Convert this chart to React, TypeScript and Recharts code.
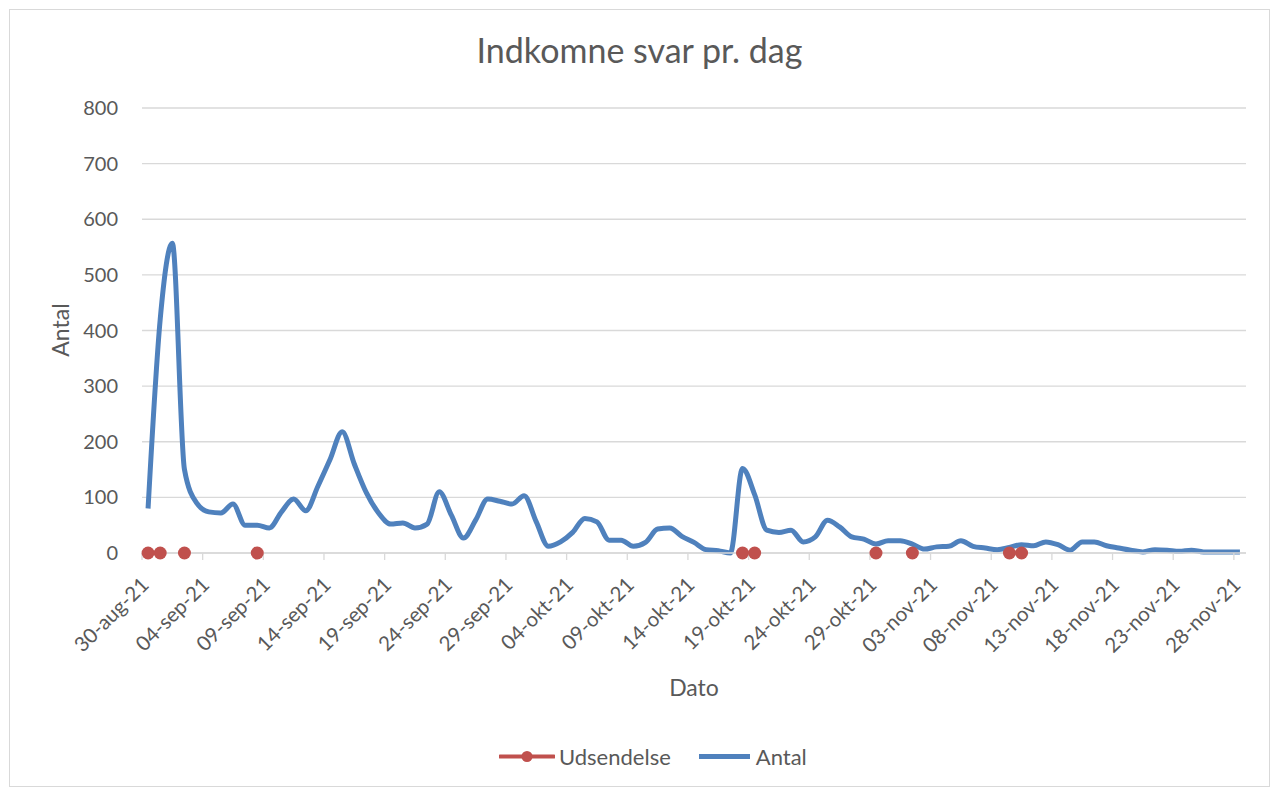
import { LineChart, Line, XAxis, YAxis, CartesianGrid } from 'recharts';

// x tick labels, one per 5 days starting 30-aug-21
const tickLabels = [
  '30-aug-21', '04-sep-21', '09-sep-21', '14-sep-21', '19-sep-21', '24-sep-21',
  '29-sep-21', '04-okt-21', '09-okt-21', '14-okt-21', '19-okt-21', '24-okt-21',
  '29-okt-21', '03-nov-21', '08-nov-21', '13-nov-21', '18-nov-21', '23-nov-21',
  '28-nov-21'
];

// daily answers, 30-aug-21 .. 28-nov-21
const antal = [
  80, 420, 557, 150, 90, 74, 72, 88, 50, 50,
  45, 74, 97, 76, 120, 168, 218, 160, 108, 72,
  52, 54, 45, 52, 110, 68, 27, 59, 97, 93,
  88, 103, 56, 12, 20, 37, 62, 56, 23, 23,
  12, 19, 43, 45, 30, 19, 6, 4, 0, 152,
  105, 41, 37, 41, 20, 29, 59, 47, 29, 25,
  16, 22, 22, 16, 7, 11, 12, 22, 12, 9,
  6, 10, 15, 13, 20, 15, 5, 20, 20, 13,
  9, 5, 2, 6, 5, 3, 5, 2, 2, 2,
  2
];

// days (index from 30-aug-21) where a mailing was sent
const udsendelseDays = [0, 1, 3, 9, 49, 50, 60, 63, 71, 72];

const yTicks = [0, 100, 200, 300, 400, 500, 600, 700, 800];

const data = antal.map((v, i) => ({
  day: i,
  antal: v,
  udsendelse: udsendelseDays.includes(i) ? 0 : null
}));

const xTicks = tickLabels.map((_, i) => i * 5 - 0.5);

const TEXT = '#595959';
const FONT = 'Lato, "Open Sans", sans-serif';

const DateTick = (props: any) => {
  const { x, y, payload } = props;
  const label = tickLabels[Math.round((payload.value + 0.5) / 5)];
  const tx = x + 3;
  return (
    <text
      x={tx}
      y={y}
      transform={`rotate(-45, ${tx}, ${y})`}
      textAnchor="end"
      dy="0.35em"
      fill={TEXT}
      fontSize={20.5}
      fontFamily={FONT}
    >
      {label}
    </text>
  );
};

export default function App() {
  return (
    <div
      style={{
        position: 'relative',
        width: 1259,
        height: 776,
        margin: 1,
        border: '1px solid #D9D9D9',
        background: '#fff',
        fontFamily: FONT,
        color: TEXT
      }}
    >
      <div
        style={{
          position: 'absolute',
          left: 0,
          right: 0,
          top: 20,
          textAlign: 'center',
          fontSize: 34,
          lineHeight: '40px'
        }}
      >
        Indkomne svar pr. dag
      </div>
      <div
        style={{
          position: 'absolute',
          left: 50,
          top: 320,
          transform: 'translate(-50%, -50%) rotate(-90deg)',
          fontSize: 23,
          whiteSpace: 'nowrap'
        }}
      >
        Antal
      </div>
      <div
        style={{
          position: 'absolute',
          left: 684,
          top: 677,
          transform: 'translate(-50%, -50%)',
          fontSize: 23
        }}
      >
        Dato
      </div>

      <LineChart
        width={1259}
        height={776}
        data={data}
        margin={{ top: 98, right: 23, left: 72, bottom: 173 }}
      >
        <CartesianGrid vertical={false} stroke="#D9D9D9" strokeWidth={1.3} />
        <XAxis
          dataKey="day"
          type="number"
          domain={[-0.5, 90.5]}
          ticks={xTicks}
          interval={0}
          height={60}
          axisLine={{ stroke: '#D9D9D9', strokeWidth: 1.3 }}
          tickLine={{ stroke: '#D9D9D9', strokeWidth: 1.3 }}
          tickSize={7}
          tickMargin={21}
          tick={<DateTick />}
        />
        <YAxis
          domain={[0, 800]}
          ticks={yTicks}
          width={60}
          axisLine={false}
          tickLine={false}
          tickSize={0}
          tickMargin={24}
          tick={{ fill: TEXT, fontSize: 20, fontFamily: FONT }}
        />
        <Line
          dataKey="udsendelse"
          name="Udsendelse"
          stroke="#C0504D"
          strokeWidth={3}
          dot={{ r: 6.5, fill: '#C0504D', stroke: '#C0504D', strokeWidth: 0 }}
          activeDot={false}
          isAnimationActive={false}
        />
        <Line
          dataKey="antal"
          name="Antal"
          type="monotone"
          stroke="#4F81BD"
          strokeWidth={5}
          strokeLinejoin="round"
          dot={false}
          activeDot={false}
          isAnimationActive={false}
        />
      </LineChart>

      {/* legend */}
      <div
        style={{
          position: 'absolute',
          left: 489,
          top: 746,
          transform: 'translateY(-50%)',
          display: 'flex',
          alignItems: 'center',
          fontSize: 22,
          whiteSpace: 'nowrap'
        }}
      >
        <svg width={56} height={14} style={{ display: 'block' }}>
          <line x1={1} y1={7} x2={55} y2={7} stroke="#C0504D" strokeWidth={4} strokeLinecap="round" />
          <circle cx={28} cy={7} r={5.5} fill="#C0504D" />
        </svg>
        <span style={{ marginLeft: 4 }}>Udsendelse</span>
        <svg width={51} height={14} style={{ display: 'block', marginLeft: 28 }}>
          <line x1={0} y1={7} x2={51} y2={7} stroke="#4F81BD" strokeWidth={5} />
        </svg>
        <span style={{ marginLeft: 6 }}>Antal</span>
      </div>
    </div>
  );
}
